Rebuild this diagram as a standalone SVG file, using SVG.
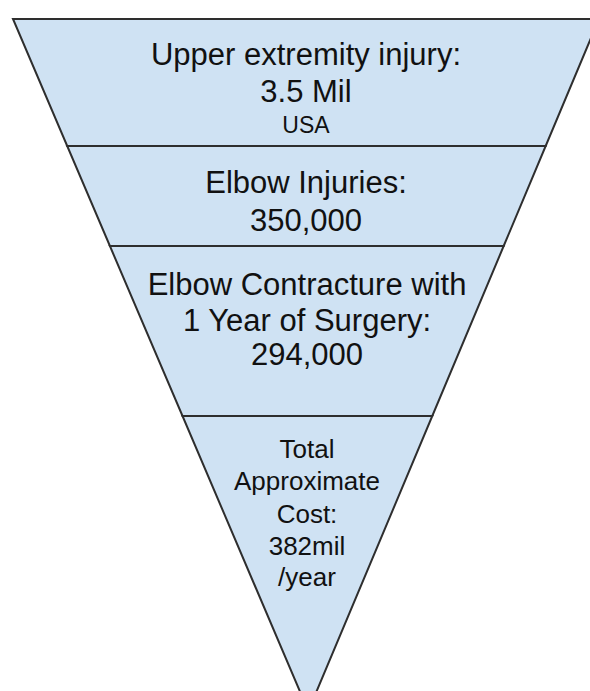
<svg xmlns="http://www.w3.org/2000/svg" width="590" height="691" viewBox="0 0 590 691">
  <style>
    .sec { fill: #cfe2f3; stroke: #2e2e2e; stroke-width: 2; stroke-linejoin: miter; }
    .t { font-family: "Liberation Sans", Arial, sans-serif; fill: #111; text-anchor: middle; }
    .big { font-size: 31px; }
    .mid { font-size: 23px; }
    .sm { font-size: 26px; }
  </style>
  <rect width="590" height="691" fill="#ffffff"/>
  <g id="level1">
    <polygon class="sec" points="13,19 599,19 545.7,146 67.2,146"/>
    <text class="t big" x="306" y="65">Upper extremity injury:</text>
    <text class="t big" x="306" y="102">3.5 Mil</text>
    <text class="t mid" x="306" y="133">USA</text>
  </g>
  <g id="level2">
    <polygon class="sec" points="67.2,146 545.7,146 503.7,246 109.9,246"/>
    <text class="t big" x="306" y="193">Elbow Injuries:</text>
    <text class="t big" x="306" y="231">350,000</text>
  </g>
  <g id="level3">
    <polygon class="sec" points="109.9,246 503.7,246 432.3,416 182.5,416"/>
    <text class="t big" x="307" y="295">Elbow Contracture with</text>
    <text class="t big" x="307" y="331">1 Year of Surgery:</text>
    <text class="t big" x="307" y="365">294,000</text>
  </g>
  <g id="level4">
    <polygon class="sec" points="182.5,416 432.3,416 308.3,711"/>
    <text class="t sm" x="307" y="458">Total</text>
    <text class="t sm" x="307" y="490">Approximate</text>
    <text class="t sm" x="307" y="523">Cost:</text>
    <text class="t sm" x="307" y="555">382mil</text>
    <text class="t sm" x="307" y="586">/year</text>
  </g>
  <g id="connectors"></g>
</svg>
